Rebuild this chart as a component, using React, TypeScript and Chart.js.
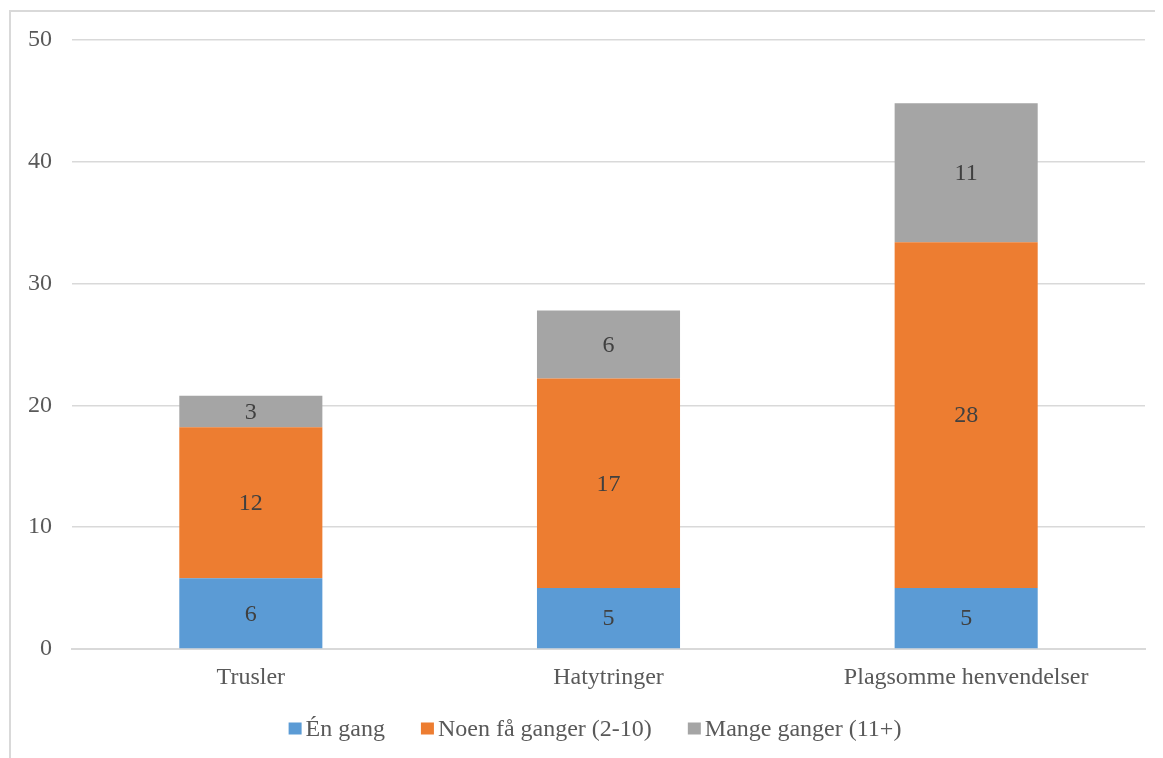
import React, { useEffect, useRef } from "react";
import { Chart, registerables } from "chart.js";

Chart.register(...registerables);

const categories = ["Trusler", "Hatytringer", "Plagsomme henvendelser"];
const seriesNames = ["Én gang", "Noen få ganger (2-10)", "Mange ganger (11+)"];
const enGang = [5.8, 5.0, 5.0];
const noenFa = [12.4, 17.2, 28.4];
const mange = [2.6, 5.6, 11.4];
const seriesColors = ["#5B9BD5", "#ED7D31", "#A5A5A5"];
const yTicks = [0, 10, 20, 30, 40, 50];

const FONT = "'Liberation Serif', 'Times New Roman', serif";

const labelPlugin = {
  id: "barLabels",
  afterDatasetsDraw(chart: any) {
    const ctx = chart.ctx;
    ctx.save();
    ctx.font = `24px ${FONT}`;
    ctx.fillStyle = "#404040";
    ctx.textAlign = "center";
    ctx.textBaseline = "middle";
    chart.data.datasets.forEach((ds: any, di: number) => {
      const meta = chart.getDatasetMeta(di);
      meta.data.forEach((el: any, i: number) => {
        const v = ds.data[i];
        ctx.fillText(String(Math.round(v)), el.x, (el.y + el.base) / 2 + 1);
      });
    });
    ctx.restore();
  },
};

const borderPlugin = {
  id: "outerBorder",
  beforeDraw(chart: any) {
    const ctx = chart.ctx;
    ctx.save();
    ctx.strokeStyle = "#d9d9d9";
    ctx.lineWidth = 2;
    ctx.beginPath();
    ctx.moveTo(2, chart.height);
    ctx.lineTo(2, 3);
    ctx.lineTo(chart.width, 3);
    ctx.stroke();
    ctx.restore();
  },
};

const legendPlugin = {
  id: "customLegend",
  afterDraw(chart: any) {
    const ctx = chart.ctx;
    ctx.save();
    ctx.font = `24px ${FONT}`;
    ctx.textBaseline = "middle";
    ctx.textAlign = "left";
    const boxW = 13;
    const boxH = 12;
    const gap = 4;
    const spacing = 36;
    const widths = seriesNames.map((n) => boxW + gap + ctx.measureText(n).width);
    const total = widths.reduce((a, b) => a + b, 0) + spacing * (seriesNames.length - 1);
    let x = 587 - total / 2;
    const y = 720.5;
    seriesNames.forEach((n, i) => {
      ctx.fillStyle = seriesColors[i];
      ctx.fillRect(x, y - boxH / 2, boxW, boxH);
      ctx.fillStyle = "#595959";
      ctx.fillText(n, x + boxW + gap, y + 1);
      x += widths[i] + spacing;
    });
    ctx.restore();
  },
};

export default function App() {
  const ref = useRef<HTMLCanvasElement>(null);
  useEffect(() => {
    const chart = new Chart(ref.current!, {
      type: "bar",
      data: {
        labels: categories,
        datasets: seriesNames.map((name, i) => ({
          label: name,
          data: [enGang, noenFa, mange][i],
          backgroundColor: seriesColors[i],
        })),
      },
      options: {
        animation: false,
        responsive: false,
        layout: { padding: { left: 0, right: 18, top: 32, bottom: 66 } },
        datasets: { bar: { categoryPercentage: 1, barPercentage: 0.4 } },
        scales: {
          x: {
            stacked: true,
            grid: { display: false, drawTicks: false },
            border: { display: true, color: "#d9d9d9", width: 2 },
            ticks: { color: "#595959", font: { family: FONT, size: 24 }, padding: 14 },
            afterFit(scale: any) {
              scale.height = 43;
              scale.paddingLeft = 0;
              scale.paddingRight = 0;
            },
          },
          y: {
            stacked: true,
            min: 0,
            max: 50,
            afterBuildTicks(scale: any) {
              scale.ticks = yTicks.map((v) => ({ value: v }));
            },
            afterFit(scale: any) {
              scale.width = 64;
              scale.paddingTop = 0;
              scale.paddingBottom = 0;
            },
            grid: { color: "#d9d9d9", lineWidth: 1.5, drawTicks: false },
            border: { display: false },
            ticks: { color: "#595959", font: { family: FONT, size: 24 }, padding: 20 },
          },
        },
        plugins: {
          legend: { display: false },
          tooltip: { enabled: false },
        },
      },
      plugins: [labelPlugin, borderPlugin, legendPlugin],
    });
    return () => chart.destroy();
  }, []);
  return (
    <div style={{ width: 1155, height: 750 }}>
      <canvas ref={ref} width={1155} height={750} style={{ display: "block" }} />
    </div>
  );
}
